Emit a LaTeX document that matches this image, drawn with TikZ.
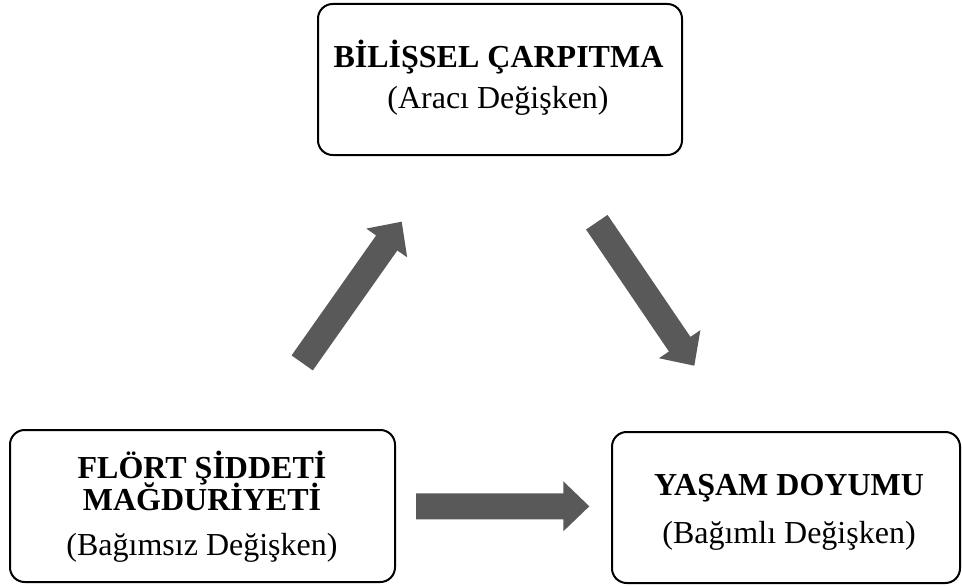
\documentclass[tikz,border=0pt]{standalone}
\usepackage{fontspec}
\setmainfont{Liberation Serif}
\usetikzlibrary{calc}
\definecolor{arrowgray}{HTML}{595959}
\tikzset{
  box/.style={draw=black, line width=1.5pt, rounded corners=11pt, fill=white, inner sep=0pt},
  boldtxt/.style={anchor=base, inner sep=0pt, font=\fontsize{24}{28}\selectfont\bfseries},
  normtxt/.style={anchor=base, inner sep=0pt, font=\fontsize{24}{28}\selectfont},
}
\newcommand\blockarrow[2]{%
  \path let \p1=($(#2)-(#1)$), \n1={atan2(\y1,\x1)}, \n2={veclen(\x1,\y1)} in
    \pgfextra{\xdef\baang{\n1}\xdef\balen{\n2}};
  \begin{scope}[shift={(#1)}, rotate=\baang]
    \fill[arrowgray] (0pt,-9.75pt) -- ({\balen*1pt-19.5pt},-9.75pt) -- ({\balen*1pt-19.5pt},-18.75pt)
      -- ({\balen*1pt},0pt) -- ({\balen*1pt-19.5pt},18.75pt) -- ({\balen*1pt-19.5pt},9.75pt)
      -- (0pt,9.75pt) -- cycle;
  \end{scope}}
\begin{document}
\begin{tikzpicture}[x=0.75pt, y=-0.75pt]
\useasboundingbox (0,0) rectangle (962,585);
% boxes
\node[box, minimum width=273pt, minimum height=113.25pt] (top) at (500,79.5) {};
\node[box, minimum width=288.75pt, minimum height=114pt] (left) at (202.5,506) {};
\node[box, minimum width=261pt, minimum height=113.25pt] (right) at (786,507.5) {};
% texts
\node[boldtxt] (t1) at (498.5,67) {BİLİŞSEL ÇARPITMA};
\node[normtxt] (t2) at (498,108) {(Aracı Değişken)};
\node[boldtxt] (l1) at (202,478) {FLÖRT ŞİDDETİ};
\node[boldtxt] (l2) at (202,510) {MAĞDURİYETİ};
\node[normtxt] (l3) at (202,555) {(Bağımsız Değişken)};
\node[boldtxt] (r1) at (789,495) {YAŞAM DOYUMU};
\node[normtxt] (r2) at (789,543) {(Bağımlı Değişken)};
% arrow endpoints
\coordinate (ua) at (302.2,362.9);
\coordinate (ub) at (401.7,221.7);
\coordinate (da) at (596.8,222.2);
\coordinate (db) at (694.3,365.7);
\coordinate (ha) at (416,506.3);
\coordinate (hb) at (589.3,506.3);
\blockarrow{ua}{ub}
\blockarrow{da}{db}
\blockarrow{ha}{hb}
\end{tikzpicture}
\end{document}
